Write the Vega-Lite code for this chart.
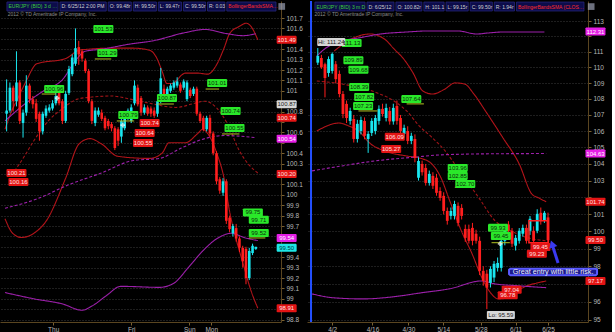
{
"$schema":"https://vega.github.io/schema/vega-lite/v6.json",
"background":"#000000","padding":0,"spacing":2,
"config":{"view":{"stroke":null},
"axis":{"labelColor":"#b8b8b8","labelFontSize":6.5,"labelFont":"Liberation Sans","tickColor":"#7a6030","domainColor":"#5a4520","tickSize":3,"gridColor":"#4d4d4d","gridDash":[1,2],"gridWidth":0.8},
"axisX":{"grid":false,"labelFlush":false,"labelPadding":1,"minExtent":11,"maxExtent":11},
"axisY":{"grid":true,"labelPadding":2,"labelOverlap":false,"minExtent":24,"maxExtent":24}},
"resolve":{"scale":{"x":"independent","y":"independent"}},
"datasets":{
"Lc":[{"i":0,"o":100.78,"h":101.11,"l":100.61,"c":100.81},{"i":1,"o":100.81,"h":101.08,"l":100.79,"c":101.03},{"i":2,"o":101.03,"h":101.05,"l":100.8,"c":100.9},{"i":3,"o":100.9,"h":101.38,"l":100.85,"c":101.08},{"i":4,"o":101.08,"h":101.1,"l":100.68,"c":100.71},{"i":5,"o":100.69,"h":100.82,"l":100.55,"c":100.79},{"i":6,"o":100.79,"h":101.15,"l":100.76,"c":101.05},{"i":7,"o":101.05,"h":101.07,"l":100.88,"c":100.92},{"i":8,"o":100.92,"h":100.95,"l":100.83,"c":100.87},{"i":9,"o":100.88,"h":100.92,"l":100.7,"c":100.73},{"i":10,"o":100.78,"h":100.8,"l":100.52,"c":100.61},{"i":11,"o":100.61,"h":100.8,"l":100.58,"c":100.78},{"i":12,"o":100.76,"h":100.86,"l":100.74,"c":100.83},{"i":13,"o":100.81,"h":100.87,"l":100.79,"c":100.84},{"i":14,"o":100.83,"h":100.91,"l":100.81,"c":100.88},{"i":15,"o":100.88,"h":100.99,"l":100.86,"c":100.95},{"i":16,"o":101.0,"h":101.02,"l":100.86,"c":100.88},{"i":17,"o":100.9,"h":100.92,"l":100.68,"c":100.71},{"i":18,"o":100.71,"h":101.0,"l":100.69,"c":100.97},{"i":19,"o":100.98,"h":101.24,"l":100.96,"c":101.21},{"i":20,"o":101.16,"h":101.35,"l":101.14,"c":101.32},{"i":21,"o":101.26,"h":101.6,"l":101.24,"c":101.41},{"i":22,"o":101.42,"h":101.48,"l":101.25,"c":101.35},{"i":23,"o":101.38,"h":101.4,"l":101.28,"c":101.31},{"i":24,"o":101.29,"h":101.31,"l":101.17,"c":101.19},{"i":25,"o":101.19,"h":101.21,"l":100.88,"c":100.9},{"i":26,"o":100.9,"h":100.92,"l":100.68,"c":100.71},{"i":27,"o":100.69,"h":100.84,"l":100.66,"c":100.81},{"i":28,"o":100.77,"h":100.84,"l":100.75,"c":100.81},{"i":29,"o":100.79,"h":100.82,"l":100.71,"c":100.73},{"i":30,"o":100.74,"h":100.76,"l":100.62,"c":100.64},{"i":31,"o":100.71,"h":100.73,"l":100.63,"c":100.66},{"i":32,"o":100.68,"h":100.7,"l":100.61,"c":100.64},{"i":33,"o":100.64,"h":100.66,"l":100.43,"c":100.45},{"i":34,"o":100.63,"h":100.65,"l":100.47,"c":100.52},{"i":35,"o":100.56,"h":100.74,"l":100.5,"c":100.71},{"i":36,"o":100.64,"h":100.8,"l":100.62,"c":100.78},{"i":37,"o":100.74,"h":100.83,"l":100.72,"c":100.81},{"i":38,"o":100.71,"h":100.87,"l":100.69,"c":100.84},{"i":39,"o":100.88,"h":101.1,"l":100.86,"c":101.05},{"i":40,"o":101.03,"h":101.06,"l":100.85,"c":100.87},{"i":41,"o":100.93,"h":100.95,"l":100.76,"c":100.79},{"i":42,"o":100.79,"h":100.87,"l":100.77,"c":100.84},{"i":43,"o":100.84,"h":100.86,"l":100.76,"c":100.78},{"i":44,"o":100.83,"h":100.85,"l":100.75,"c":100.78},{"i":45,"o":100.81,"h":100.84,"l":100.74,"c":100.76},{"i":46,"o":100.78,"h":100.93,"l":100.75,"c":100.9},{"i":47,"o":100.9,"h":101.22,"l":100.88,"c":101.12},{"i":48,"o":101.02,"h":101.06,"l":100.9,"c":100.92},{"i":49,"o":100.95,"h":101.04,"l":100.93,"c":101.02},{"i":50,"o":101.0,"h":101.07,"l":100.98,"c":101.05},{"i":51,"o":101.03,"h":101.1,"l":101.01,"c":101.08},{"i":52,"o":101.05,"h":101.13,"l":101.03,"c":101.09},{"i":53,"o":101.06,"h":101.08,"l":100.98,"c":101.0},{"i":54,"o":101.03,"h":101.11,"l":101.01,"c":101.09},{"i":55,"o":100.92,"h":101.1,"l":100.9,"c":101.08},{"i":56,"o":101.01,"h":101.03,"l":100.93,"c":100.95},{"i":57,"o":100.97,"h":101.04,"l":100.95,"c":101.02},{"i":58,"o":101.02,"h":101.04,"l":100.76,"c":100.78},{"i":59,"o":100.78,"h":100.8,"l":100.69,"c":100.71},{"i":60,"o":100.74,"h":100.76,"l":100.61,"c":100.63},{"i":61,"o":100.63,"h":100.76,"l":100.61,"c":100.74},{"i":62,"o":100.74,"h":100.77,"l":100.56,"c":100.59},{"i":63,"o":100.59,"h":100.61,"l":100.38,"c":100.4},{"i":64,"o":100.4,"h":100.42,"l":100.1,"c":100.13},{"i":65,"o":100.15,"h":100.17,"l":100.01,"c":100.04},{"i":66,"o":100.02,"h":100.16,"l":99.99,"c":100.13},{"i":67,"o":100.13,"h":100.15,"l":99.72,"c":99.75},{"i":68,"o":99.78,"h":99.8,"l":99.64,"c":99.67},{"i":69,"o":99.63,"h":99.72,"l":99.6,"c":99.7},{"i":70,"o":99.68,"h":99.72,"l":99.55,"c":99.58},{"i":71,"o":99.58,"h":99.6,"l":99.45,"c":99.49},{"i":72,"o":99.49,"h":99.51,"l":99.3,"c":99.36},{"i":73,"o":99.48,"h":99.5,"l":99.14,"c":99.2},{"i":74,"o":99.2,"h":99.49,"l":99.18,"c":99.46},{"i":75,"o":99.44,"h":99.53,"l":99.42,"c":99.51},{"i":76,"o":99.48,"h":99.5,"l":99.47,"c":99.5}],
"Rc":[{"i":0,"o":110.3,"h":111.24,"l":110.15,"c":110.73},{"i":1,"o":110.6,"h":110.8,"l":109.9,"c":110.0},{"i":2,"o":110.2,"h":110.3,"l":108.1,"c":109.32},{"i":3,"o":109.64,"h":110.7,"l":109.4,"c":110.53},{"i":4,"o":109.77,"h":110.95,"l":109.6,"c":110.86},{"i":5,"o":110.2,"h":110.4,"l":109.0,"c":109.25},{"i":6,"o":109.58,"h":109.8,"l":108.1,"c":108.31},{"i":7,"o":108.31,"h":108.5,"l":106.8,"c":107.06},{"i":8,"o":107.69,"h":107.9,"l":106.5,"c":106.81},{"i":9,"o":106.63,"h":107.45,"l":106.4,"c":107.25},{"i":10,"o":106.75,"h":107.0,"l":105.3,"c":105.52},{"i":11,"o":105.52,"h":106.7,"l":105.3,"c":106.45},{"i":12,"o":106.01,"h":106.9,"l":105.8,"c":106.69},{"i":13,"o":106.63,"h":106.85,"l":105.5,"c":105.71},{"i":14,"o":105.52,"h":106.0,"l":104.67,"c":105.83},{"i":15,"o":105.89,"h":106.8,"l":105.7,"c":106.63},{"i":16,"o":106.01,"h":107.0,"l":105.8,"c":106.81},{"i":17,"o":106.63,"h":107.6,"l":106.4,"c":107.38},{"i":18,"o":107.38,"h":107.7,"l":106.9,"c":107.06},{"i":19,"o":106.81,"h":107.7,"l":106.6,"c":107.44},{"i":20,"o":107.25,"h":107.5,"l":106.4,"c":106.6},{"i":21,"o":106.6,"h":107.7,"l":106.4,"c":107.44},{"i":22,"o":107.56,"h":107.9,"l":106.4,"c":106.63},{"i":23,"o":106.81,"h":107.0,"l":105.8,"c":106.01},{"i":24,"o":105.83,"h":106.4,"l":105.6,"c":106.2},{"i":25,"o":106.01,"h":106.3,"l":105.2,"c":105.4},{"i":26,"o":105.4,"h":105.9,"l":105.2,"c":105.71},{"i":27,"o":105.52,"h":105.8,"l":104.1,"c":104.36},{"i":28,"o":103.17,"h":104.4,"l":103.0,"c":104.18},{"i":29,"o":104.0,"h":104.2,"l":103.3,"c":103.5},{"i":30,"o":103.76,"h":104.0,"l":102.7,"c":102.86},{"i":31,"o":102.86,"h":103.6,"l":102.7,"c":103.4},{"i":32,"o":103.28,"h":103.5,"l":102.5,"c":102.69},{"i":33,"o":103.17,"h":103.4,"l":102.1,"c":102.27},{"i":34,"o":102.38,"h":102.6,"l":101.8,"c":101.97},{"i":35,"o":102.09,"h":102.3,"l":101.0,"c":101.2},{"i":36,"o":101.2,"h":101.4,"l":100.4,"c":100.62},{"i":37,"o":100.91,"h":101.4,"l":100.7,"c":101.2},{"i":38,"o":100.91,"h":101.8,"l":100.7,"c":101.61},{"i":39,"o":101.5,"h":101.7,"l":100.3,"c":100.5},{"i":40,"o":101.38,"h":101.6,"l":100.7,"c":100.91},{"i":41,"o":100.15,"h":100.4,"l":99.4,"c":99.63},{"i":42,"o":100.15,"h":100.4,"l":99.3,"c":99.46},{"i":43,"o":100.21,"h":100.5,"l":99.2,"c":99.46},{"i":44,"o":99.87,"h":100.1,"l":99.3,"c":99.46},{"i":45,"o":99.46,"h":99.7,"l":97.5,"c":97.74},{"i":46,"o":97.74,"h":98.0,"l":96.9,"c":97.17},{"i":47,"o":97.58,"h":97.8,"l":95.59,"c":96.79},{"i":48,"o":97.06,"h":98.0,"l":96.8,"c":97.85},{"i":49,"o":97.36,"h":98.3,"l":97.1,"c":98.14},{"i":50,"o":97.91,"h":98.5,"l":97.7,"c":98.19},{"i":51,"o":97.91,"h":99.8,"l":97.7,"c":99.46},{"i":52,"o":99.46,"h":100.4,"l":99.2,"c":100.21},{"i":53,"o":100.4,"h":100.6,"l":99.9,"c":100.04},{"i":54,"o":100.04,"h":100.2,"l":99.1,"c":99.29},{"i":55,"o":99.18,"h":99.8,"l":98.9,"c":99.63},{"i":56,"o":99.46,"h":100.2,"l":99.3,"c":100.04},{"i":57,"o":99.87,"h":100.4,"l":99.7,"c":100.21},{"i":58,"o":100.21,"h":100.4,"l":99.3,"c":99.46},{"i":59,"o":100.04,"h":100.9,"l":99.8,"c":100.74},{"i":60,"o":100.04,"h":100.3,"l":99.3,"c":99.46},{"i":61,"o":100.04,"h":101.3,"l":99.9,"c":101.03},{"i":62,"o":101.09,"h":101.4,"l":100.4,"c":100.62},{"i":63,"o":100.62,"h":101.2,"l":100.5,"c":101.09},{"i":64,"o":100.82,"h":101.1,"l":99.15,"c":99.5}],
"Lln":[{"s":"ub","i":-0.5,"p":100.63},{"s":"ub","i":1.6,"p":100.81},{"s":"ub","i":3.3,"p":100.92},{"s":"ub","i":5.9,"p":101.09},{"s":"ub","i":9.2,"p":101.26},{"s":"ub","i":18,"p":101.31},{"s":"ub","i":22.1,"p":101.39},{"s":"ub","i":25.1,"p":101.4},{"s":"ub","i":31.9,"p":101.41},{"s":"ub","i":38.6,"p":101.41},{"s":"ub","i":43.6,"p":101.39},{"s":"ub","i":45.7,"p":101.32},{"s":"ub","i":47.4,"p":101.19},{"s":"ub","i":48.9,"p":101.07},{"s":"ub","i":50.4,"p":101.07},{"s":"ub","i":54.5,"p":101.17},{"s":"ub","i":58.3,"p":101.17},{"s":"ub","i":61.3,"p":101.16},{"s":"ub","i":64.2,"p":101.26},{"s":"ub","i":66.3,"p":101.41},{"s":"ub","i":68,"p":101.55},{"s":"ub","i":71,"p":101.62},{"s":"ub","i":73,"p":101.65},{"s":"ub","i":74.5,"p":101.62},{"s":"ub","i":76.6,"p":101.49},
{"s":"mb","i":2.44,"p":100.23},{"s":"mb","i":5.4,"p":100.37},{"s":"mb","i":8.3,"p":100.52},{"s":"mb","i":12.7,"p":100.71},{"s":"mb","i":17.1,"p":100.83},{"s":"mb","i":21.6,"p":100.92},{"s":"mb","i":26,"p":100.94},{"s":"mb","i":31.9,"p":100.95},{"s":"mb","i":37.7,"p":100.92},{"s":"mb","i":43.6,"p":100.88},{"s":"mb","i":51.6,"p":100.84},{"s":"mb","i":57.4,"p":100.88},{"s":"mb","i":60.4,"p":100.9},{"s":"mb","i":64.2,"p":100.83},{"s":"mb","i":67.7,"p":100.66},{"s":"mb","i":70.7,"p":100.44},{"s":"mb","i":73.6,"p":100.3},{"s":"mb","i":76.6,"p":100.21},
{"s":"lb","i":-0.5,"p":99.77},{"s":"lb","i":1.85,"p":99.63},{"s":"lb","i":4.5,"p":99.59},{"s":"lb","i":8.3,"p":99.63},{"s":"lb","i":12.1,"p":99.75},{"s":"lb","i":18,"p":100.16},{"s":"lb","i":22.1,"p":100.49},{"s":"lb","i":25.4,"p":100.54},{"s":"lb","i":28.9,"p":100.49},{"s":"lb","i":33.9,"p":100.37},{"s":"lb","i":43.6,"p":100.35},{"s":"lb","i":47.4,"p":100.4},{"s":"lb","i":49.5,"p":100.5},{"s":"lb","i":54.5,"p":100.5},{"s":"lb","i":58.3,"p":100.59},{"s":"lb","i":59.8,"p":100.63},{"s":"lb","i":61.3,"p":100.59},{"s":"lb","i":64.2,"p":100.39},{"s":"lb","i":66.3,"p":100.16},{"s":"lb","i":68,"p":99.84},{"s":"lb","i":70.1,"p":99.56},{"s":"lb","i":72.1,"p":99.34},{"s":"lb","i":74.5,"p":99.08},{"s":"lb","i":76.6,"p":98.91},
{"s":"pu","i":-0.5,"p":100.71},{"s":"pu","i":5.4,"p":100.87},{"s":"pu","i":11.3,"p":101.0},{"s":"pu","i":17.1,"p":101.11},{"s":"pu","i":21,"p":101.29},{"s":"pu","i":23.9,"p":101.38},{"s":"pu","i":28.9,"p":101.4},{"s":"pu","i":37.7,"p":101.45},{"s":"pu","i":44.5,"p":101.48},{"s":"pu","i":54.5,"p":101.56},{"s":"pu","i":60.4,"p":101.59},{"s":"pu","i":67.1,"p":101.55},{"s":"pu","i":72.1,"p":101.53},{"s":"pu","i":76,"p":101.55},
{"s":"pd","i":-0.5,"p":99.87},{"s":"pd","i":9.2,"p":99.96},{"s":"pd","i":19.2,"p":100.1},{"s":"pd","i":28.9,"p":100.21},{"s":"pd","i":38.6,"p":100.33},{"s":"pd","i":46.6,"p":100.35},{"s":"pd","i":53.3,"p":100.45},{"s":"pd","i":60.4,"p":100.54},{"s":"pd","i":66.3,"p":100.57},{"s":"pd","i":76,"p":100.55},
{"s":"pl","i":-0.5,"p":99.06},{"s":"pl","i":8.3,"p":99.0},{"s":"pl","i":17.1,"p":98.95},{"s":"pl","i":23,"p":98.89},{"s":"pl","i":26,"p":98.93},{"s":"pl","i":30.4,"p":99.03},{"s":"pl","i":34.8,"p":99.12},{"s":"pl","i":46.6,"p":99.11},{"s":"pl","i":51,"p":99.15},{"s":"pl","i":55.4,"p":99.3},{"s":"pl","i":59.8,"p":99.46},{"s":"pl","i":64.2,"p":99.58},{"s":"pl","i":68.6,"p":99.63},{"s":"pl","i":72.4,"p":99.59},{"s":"pl","i":76.6,"p":99.56}],
"Rln":[{"s":"ub","i":4.56,"p":111.05},{"s":"ub","i":9.38,"p":111.83},{"s":"ub","i":14.5,"p":112.15},{"s":"ub","i":18.5,"p":111.83},{"s":"ub","i":21.2,"p":111.18},{"s":"ub","i":23.9,"p":110.53},{"s":"ub","i":26.5,"p":109.64},{"s":"ub","i":29.2,"p":108.5},{"s":"ub","i":31.9,"p":108.31},{"s":"ub","i":35.4,"p":108.63},{"s":"ub","i":38.1,"p":109.01},{"s":"ub","i":40.8,"p":108.94},{"s":"ub","i":43.4,"p":108.31},{"s":"ub","i":46.6,"p":107.25},{"s":"ub","i":51.5,"p":105.58},{"s":"ub","i":56,"p":104.0},{"s":"ub","i":59.5,"p":102.2},{"s":"ub","i":61.4,"p":101.97},{"s":"ub","i":63.5,"p":101.74},
{"s":"mb","i":-0.27,"p":109.13},{"s":"mb","i":6.7,"p":108.94},{"s":"mb","i":16.6,"p":108.37},{"s":"mb","i":21.2,"p":107.87},{"s":"mb","i":24.7,"p":107.25},{"s":"mb","i":28.2,"p":106.32},{"s":"mb","i":31.9,"p":105.58},{"s":"mb","i":35.4,"p":104.79},{"s":"mb","i":39.4,"p":103.58},{"s":"mb","i":44.8,"p":101.97},{"s":"mb","i":49.3,"p":100.62},{"s":"mb","i":52.8,"p":100.15},{"s":"mb","i":56.8,"p":99.74},{"s":"mb","i":63.5,"p":99.46},
{"s":"lb","i":-0.27,"p":106.01},{"s":"lb","i":5.9,"p":106.5},{"s":"lb","i":8.6,"p":106.32},{"s":"lb","i":11.3,"p":106.01},{"s":"lb","i":14.7,"p":105.22},{"s":"lb","i":18.5,"p":104.79},{"s":"lb","i":24.7,"p":104.48},{"s":"lb","i":28.2,"p":104.36},{"s":"lb","i":31.4,"p":104.06},{"s":"lb","i":34,"p":103.28},{"s":"lb","i":36.7,"p":101.79},{"s":"lb","i":39.9,"p":100.04},{"s":"lb","i":42.9,"p":98.71},{"s":"lb","i":45.6,"p":97.36},{"s":"lb","i":48.3,"p":96.44},{"s":"lb","i":50.1,"p":96.16},{"s":"lb","i":52.8,"p":96.22},{"s":"lb","i":55.5,"p":96.61},{"s":"lb","i":58.2,"p":96.9},{"s":"lb","i":60.9,"p":97.05},{"s":"lb","i":63.5,"p":97.17},
{"s":"pu","i":-0.27,"p":110.73},{"s":"pu","i":1.9,"p":111.18},{"s":"pu","i":6.7,"p":111.7},{"s":"pu","i":11.3,"p":111.89},{"s":"pu","i":17.4,"p":112.15},{"s":"pu","i":24.7,"p":112.28},{"s":"pu","i":30.8,"p":112.35},{"s":"pu","i":38.9,"p":112.35},{"s":"pu","i":44.2,"p":112.15},{"s":"pu","i":47.5,"p":112.22},{"s":"pu","i":51.5,"p":112.28},{"s":"pu","i":63,"p":112.28},
{"s":"pd","i":-1.6,"p":103.58},{"s":"pd","i":6.7,"p":103.88},{"s":"pd","i":15.8,"p":104.18},{"s":"pd","i":27.3,"p":104.42},{"s":"pd","i":33.5,"p":104.54},{"s":"pd","i":42.6,"p":104.6},{"s":"pd","i":51.5,"p":104.62},{"s":"pd","i":63.5,"p":104.63},
{"s":"pl","i":-1.6,"p":96.44},{"s":"pl","i":4.6,"p":96.22},{"s":"pl","i":12.6,"p":96.16},{"s":"pl","i":20.6,"p":96.27},{"s":"pl","i":28.7,"p":96.5},{"s":"pl","i":36.7,"p":96.73},{"s":"pl","i":45.6,"p":97.17},{"s":"pl","i":49.3,"p":97.0},{"s":"pl","i":55.5,"p":96.9},{"s":"pl","i":63.5,"p":96.79}],
"Lt":[{"i":29.5,"p":101.594,"t":"101.53","k":"g"},{"i":30.7,"p":101.364,"t":"101.29","k":"g"},{"i":14.5,"p":101.017,"t":"100.96","k":"g"},{"i":48.9,"p":100.931,"t":"100.87","k":"g"},{"i":64.2,"p":101.075,"t":"101.01","k":"g"},{"i":37.1,"p":100.767,"t":"100.79","k":"g"},{"i":68.3,"p":100.806,"t":"100.74","k":"g"},{"i":69.5,"p":100.642,"t":"100.55","k":"g"},{"i":75.1,"p":99.83,"t":"99.75","k":"g"},{"i":76.9,"p":99.76,"t":"99.71","k":"g"},{"i":76.9,"p":99.633,"t":"99.52","k":"g"},{"i":43.6,"p":100.69,"t":"100.74","k":"r"},{"i":42.1,"p":100.594,"t":"100.64","k":"r"},{"i":41.6,"p":100.498,"t":"100.55","k":"r"},{"i":3.0,"p":100.21,"t":"100.21","k":"r"},{"i":3.6,"p":100.123,"t":"100.16","k":"r"},{"i":85.4,"p":101.49,"t":"101.49","k":"r"},{"i":85.4,"p":100.87,"t":"100.87","k":"w"},{"i":85.4,"p":100.74,"t":"100.74","k":"r"},{"i":85.4,"p":100.54,"t":"100.54","k":"m"},{"i":85.4,"p":100.2,"t":"100.20","k":"r"},{"i":85.4,"p":99.585,"t":"99.54","k":"m"},{"i":85.4,"p":99.49,"t":"99.50","k":"c"},{"i":85.4,"p":98.91,"t":"98.91","k":"r"}],
"Rt":[{"i":9.4,"p":111.57,"t":"111.13","k":"g"},{"i":9.9,"p":110.45,"t":"109.89","k":"g"},{"i":11.3,"p":109.85,"t":"109.68","k":"g"},{"i":11.5,"p":108.75,"t":"108.39","k":"g"},{"i":12.9,"p":108.12,"t":"107.82","k":"g"},{"i":12.6,"p":107.56,"t":"107.23","k":"g"},{"i":26.0,"p":107.99,"t":"107.64","k":"g"},{"i":21.4,"p":105.65,"t":"106.09","k":"r"},{"i":20.4,"p":104.91,"t":"105.27","k":"r"},{"i":38.9,"p":103.76,"t":"103.96","k":"g"},{"i":38.9,"p":103.28,"t":"102.85","k":"g"},{"i":41.0,"p":102.8,"t":"102.70","k":"g"},{"i":50.1,"p":100.21,"t":"99.93","k":"g"},{"i":50.9,"p":99.74,"t":"99.45","k":"g"},{"i":60.9,"p":98.71,"t":"99.23","k":"r"},{"i":61.9,"p":99.1,"t":"99.45","k":"r"},{"i":52.8,"p":96.36,"t":"96.78","k":"r"},{"i":53.9,"p":96.67,"t":"97.04","k":"r"},{"i":77.2,"p":112.31,"t":"112.31","k":"m"},{"i":77.2,"p":104.63,"t":"104.63","k":"m"},{"i":77.2,"p":101.74,"t":"101.74","k":"r"},{"i":77.2,"p":99.5,"t":"99.50","k":"r"},{"i":77.2,"p":97.17,"t":"97.17","k":"r"}],
"Rw":[{"i":3.75,"p":111.63,"t":"Hi: 111.24","k":"w"},{"i":50.9,"p":95.27,"t":"Lo: 95.59","k":"w"}],
"Lul":[{"a":10.7,"b":15.1,"p":100.969},{"a":26.9,"b":31.9,"p":101.306},{"a":46,"b":51,"p":100.873},{"a":60.7,"b":64.8,"p":101.017},{"a":65.7,"b":71,"p":100.585},{"a":33.6,"b":38.9,"p":100.71},{"a":73.9,"b":78.9,"p":99.585}],
"Rul":[{"a":24.7,"b":29.5,"p":107.69},{"a":11.3,"b":16.6,"p":107.25},{"a":38.1,"b":43.4,"p":102.6},{"a":48.3,"b":53.4,"p":99.35}],
"Lx":[{"i":15.4,"p":100.93},{"i":35.4,"p":100.67}],
"Rx":[{"i":50.7,"p":99.29}],
"Lh":[{"a":0.09,"b":15.68,"t":"EUR/JPY (BID) 3 d 3m","k":"sym"},{"a":16.26,"b":30.38,"t":"D: 6/25/12 2:00 PM","k":"info"},{"a":30.97,"b":38.03,"t":"O: 99.48r","k":"info"},{"a":38.62,"b":45.68,"t":"H: 99.50r","k":"info"},{"a":46.26,"b":53.32,"t":"L: 99.47r","k":"info"},{"a":53.91,"b":60.68,"t":"C: 99.50r","k":"info"},{"a":61.26,"b":66.56,"t":"R: 0.03","k":"info"},{"a":67.15,"b":82.15,"t":"BollingerBandsSMA (...","k":"bb"}],
"Rh":[{"a":-0.8,"b":13.14,"t":"EUR/JPY (BID) 3 m D","k":"sym"},{"a":13.67,"b":21.18,"t":"D: 6/25/12","k":"info"},{"a":21.72,"b":28.95,"t":"O: 100.82r","k":"info"},{"a":29.49,"b":35.12,"t":"H: 101.1","k":"info"},{"a":35.66,"b":41.82,"t":"L: 99.15r","k":"info"},{"a":42.36,"b":48.53,"t":"C: 99.50r","k":"info"},{"a":49.06,"b":54.69,"t":"R: 1.94r","k":"info"},{"a":55.23,"b":74.0,"t":"BollingerBandsSMA (CLOSE, ...","k":"bb"}]
},
"hconcat":[
{"width":281,"height":321,
"layer":[
{"data":{"name":"Lln"},"mark":{"type":"line","strokeWidth":1.1,"interpolate":"monotone"},
"encoding":{
"x":{"field":"i","type":"quantitative","scale":{"domain":[-0.5,82.15],"nice":false,"zero":false},"axis":{"values":[14.2,38,55.7,62.4],"labelExpr":"datum.value < 20 ? 'Thu' : datum.value < 45 ? 'Fri' : datum.value < 60 ? 'Sun' : 'Mon'","title":null}},
"y":{"field":"p","type":"quantitative","scale":{"domain":[98.777,101.8635],"nice":false,"zero":false},"axis":{"orient":"right","values":[98.8,98.9,99,99.1,99.2,99.3,99.4,99.5,99.6,99.7,99.8,99.9,100,100.1,100.2,100.3,100.4,100.5,100.6,100.7,100.8,100.9,101,101.1,101.2,101.3,101.4,101.5,101.6,101.7],"labelExpr":"indexof([101.5,100.9,100.7,100.5,100.2,99.6,99.5,98.9], datum.value) >= 0 ? '' : format(datum.value, '~f')","title":null}},
"stroke":{"field":"s","type":"nominal","scale":{"domain":["ub","mb","lb","pu","pd","pl"],"range":["#b3141a","#a01418","#b3141a","#9c20aa","#9c20aa","#9c20aa"]},"legend":null},
"strokeDash":{"field":"s","type":"nominal","scale":{"domain":["ub","mb","lb","pu","pd","pl"],"range":[[1,0],[3,2],[1,0],[1,0],[3,2],[1,0]]},"legend":null}}},
{"data":{"name":"Lc"},"mark":{"type":"rule","strokeWidth":1},
"encoding":{"x":{"field":"i","type":"quantitative","scale":{"domain":[-0.5,82.15],"nice":false,"zero":false},"axis":{"values":[14.2,38,55.7,62.4],"labelExpr":"datum.value < 20 ? 'Thu' : datum.value < 45 ? 'Fri' : datum.value < 60 ? 'Sun' : 'Mon'","title":null}},
"y":{"field":"l","type":"quantitative","scale":{"domain":[98.777,101.8635],"nice":false,"zero":false},"axis":{"orient":"right","values":[98.8,98.9,99,99.1,99.2,99.3,99.4,99.5,99.6,99.7,99.8,99.9,100,100.1,100.2,100.3,100.4,100.5,100.6,100.7,100.8,100.9,101,101.1,101.2,101.3,101.4,101.5,101.6,101.7],"labelExpr":"indexof([101.5,100.9,100.7,100.5,100.2,99.6,99.5,98.9], datum.value) >= 0 ? '' : format(datum.value, '~f')","title":null}},"y2":{"field":"h"},
"color":{"condition":{"test":"datum.c >= datum.o","value":"#19e6ef"},"value":"#ff1e1e"}}},
{"data":{"name":"Lc"},"mark":{"type":"bar","size":2.6,"orient":"vertical"},
"encoding":{"x":{"field":"i","type":"quantitative","scale":{"domain":[-0.5,82.15],"nice":false,"zero":false},"axis":{"values":[14.2,38,55.7,62.4],"labelExpr":"datum.value < 20 ? 'Thu' : datum.value < 45 ? 'Fri' : datum.value < 60 ? 'Sun' : 'Mon'","title":null}},
"y":{"field":"o","type":"quantitative","scale":{"domain":[98.777,101.8635],"nice":false,"zero":false},"axis":{"orient":"right","values":[98.8,98.9,99,99.1,99.2,99.3,99.4,99.5,99.6,99.7,99.8,99.9,100,100.1,100.2,100.3,100.4,100.5,100.6,100.7,100.8,100.9,101,101.1,101.2,101.3,101.4,101.5,101.6,101.7],"labelExpr":"indexof([101.5,100.9,100.7,100.5,100.2,99.6,99.5,98.9], datum.value) >= 0 ? '' : format(datum.value, '~f')","title":null}},"y2":{"field":"c"},
"color":{"condition":{"test":"datum.c >= datum.o","value":"#19e6ef"},"value":"#ff1e1e"}}},
{"data":{"name":"Lul"},"mark":{"type":"rule","strokeWidth":1,"color":"#b4c420"},
"encoding":{"x":{"field":"a","type":"quantitative","scale":{"domain":[-0.5,82.15],"nice":false,"zero":false},"axis":{"values":[14.2,38,55.7,62.4],"labelExpr":"datum.value < 20 ? 'Thu' : datum.value < 45 ? 'Fri' : datum.value < 60 ? 'Sun' : 'Mon'","title":null}},"x2":{"field":"b"},
"y":{"field":"p","type":"quantitative","scale":{"domain":[98.777,101.8635],"nice":false,"zero":false},"axis":{"orient":"right","values":[98.8,98.9,99,99.1,99.2,99.3,99.4,99.5,99.6,99.7,99.8,99.9,100,100.1,100.2,100.3,100.4,100.5,100.6,100.7,100.8,100.9,101,101.1,101.2,101.3,101.4,101.5,101.6,101.7],"labelExpr":"indexof([101.5,100.9,100.7,100.5,100.2,99.6,99.5,98.9], datum.value) >= 0 ? '' : format(datum.value, '~f')","title":null}}}},
{"data":{"name":"Lx"},"mark":{"type":"point","shape":"cross","filled":true,"size":22,"color":"#ffffff"},
"encoding":{"x":{"field":"i","type":"quantitative","scale":{"domain":[-0.5,82.15],"nice":false,"zero":false},"axis":{"values":[14.2,38,55.7,62.4],"labelExpr":"datum.value < 20 ? 'Thu' : datum.value < 45 ? 'Fri' : datum.value < 60 ? 'Sun' : 'Mon'","title":null}},
"y":{"field":"p","type":"quantitative","scale":{"domain":[98.777,101.8635],"nice":false,"zero":false},"axis":{"orient":"right","values":[98.8,98.9,99,99.1,99.2,99.3,99.4,99.5,99.6,99.7,99.8,99.9,100,100.1,100.2,100.3,100.4,100.5,100.6,100.7,100.8,100.9,101,101.1,101.2,101.3,101.4,101.5,101.6,101.7],"labelExpr":"indexof([101.5,100.9,100.7,100.5,100.2,99.6,99.5,98.9], datum.value) >= 0 ? '' : format(datum.value, '~f')","title":null}}}},
{"data":{"name":"Lt"},"mark":{"type":"point","shape":"M-0.93,-0.4H0.93L1,-0.32V0.32L0.93,0.4H-0.93L-1,0.32V-0.32Z","filled":true,"size":400,"opacity":1,"strokeWidth":0},
"encoding":{"x":{"field":"i","type":"quantitative","scale":{"domain":[-0.5,82.15],"nice":false,"zero":false},"axis":{"values":[14.2,38,55.7,62.4],"labelExpr":"datum.value < 20 ? 'Thu' : datum.value < 45 ? 'Fri' : datum.value < 60 ? 'Sun' : 'Mon'","title":null}},
"y":{"field":"p","type":"quantitative","scale":{"domain":[98.777,101.8635],"nice":false,"zero":false},"axis":{"orient":"right","values":[98.8,98.9,99,99.1,99.2,99.3,99.4,99.5,99.6,99.7,99.8,99.9,100,100.1,100.2,100.3,100.4,100.5,100.6,100.7,100.8,100.9,101,101.1,101.2,101.3,101.4,101.5,101.6,101.7],"labelExpr":"indexof([101.5,100.9,100.7,100.5,100.2,99.6,99.5,98.9], datum.value) >= 0 ? '' : format(datum.value, '~f')","title":null}},
"fill":{"field":"k","type":"nominal","scale":{"domain":["g","r","w","m","c"],"range":["#2ae82a","#e31414","#d6d6d6","#e61ee6","#1ee6e6"]},"legend":null}}},
{"data":{"name":"Lt"},"mark":{"type":"text","fontSize":6,"font":"Liberation Sans"},
"encoding":{"x":{"field":"i","type":"quantitative","scale":{"domain":[-0.5,82.15],"nice":false,"zero":false},"axis":{"values":[14.2,38,55.7,62.4],"labelExpr":"datum.value < 20 ? 'Thu' : datum.value < 45 ? 'Fri' : datum.value < 60 ? 'Sun' : 'Mon'","title":null}},
"y":{"field":"p","type":"quantitative","scale":{"domain":[98.777,101.8635],"nice":false,"zero":false},"axis":{"orient":"right","values":[98.8,98.9,99,99.1,99.2,99.3,99.4,99.5,99.6,99.7,99.8,99.9,100,100.1,100.2,100.3,100.4,100.5,100.6,100.7,100.8,100.9,101,101.1,101.2,101.3,101.4,101.5,101.6,101.7],"labelExpr":"indexof([101.5,100.9,100.7,100.5,100.2,99.6,99.5,98.9], datum.value) >= 0 ? '' : format(datum.value, '~f')","title":null}},
"text":{"field":"t"},
"color":{"field":"k","type":"nominal","scale":{"domain":["g","r","w","m","c","sym","info","bb"],"range":["#0a2a0a","#ffe0e0","#1a1a1a","#ffffff","#003a3a","#3ccf3c","#d0d0d0","#ff2a2a"]},"legend":null}}},
{"data":{"name":"Lh"},"mark":{"type":"rect","fill":"#0c0c4a","stroke":"#26267a","strokeWidth":0.8},
"encoding":{"x":{"field":"a","type":"quantitative","scale":{"domain":[-0.5,82.15],"nice":false,"zero":false},"axis":{"values":[14.2,38,55.7,62.4],"labelExpr":"datum.value < 20 ? 'Thu' : datum.value < 45 ? 'Fri' : datum.value < 60 ? 'Sun' : 'Mon'","title":null}},"x2":{"field":"b"},
"y":{"datum":101.854,"type":"quantitative","scale":{"domain":[98.777,101.8635],"nice":false,"zero":false},"axis":{"orient":"right","values":[98.8,98.9,99,99.1,99.2,99.3,99.4,99.5,99.6,99.7,99.8,99.9,100,100.1,100.2,100.3,100.4,100.5,100.6,100.7,100.8,100.9,101,101.1,101.2,101.3,101.4,101.5,101.6,101.7],"labelExpr":"indexof([101.5,100.9,100.7,100.5,100.2,99.6,99.5,98.9], datum.value) >= 0 ? '' : format(datum.value, '~f')","title":null}},"y2":{"datum":101.767}}},
{"data":{"name":"Lh"},"mark":{"type":"text","fontSize":5,"font":"Liberation Sans","align":"left","dx":1.5,"limit":50},
"encoding":{"x":{"field":"a","type":"quantitative","scale":{"domain":[-0.5,82.15],"nice":false,"zero":false},"axis":{"values":[14.2,38,55.7,62.4],"labelExpr":"datum.value < 20 ? 'Thu' : datum.value < 45 ? 'Fri' : datum.value < 60 ? 'Sun' : 'Mon'","title":null}},
"y":{"datum":101.811,"type":"quantitative","scale":{"domain":[98.777,101.8635],"nice":false,"zero":false},"axis":{"orient":"right","values":[98.8,98.9,99,99.1,99.2,99.3,99.4,99.5,99.6,99.7,99.8,99.9,100,100.1,100.2,100.3,100.4,100.5,100.6,100.7,100.8,100.9,101,101.1,101.2,101.3,101.4,101.5,101.6,101.7],"labelExpr":"indexof([101.5,100.9,100.7,100.5,100.2,99.6,99.5,98.9], datum.value) >= 0 ? '' : format(datum.value, '~f')","title":null}},
"text":{"field":"t"},
"color":{"field":"k","type":"nominal","scale":{"domain":["g","r","w","m","c","sym","info","bb"],"range":["#0a2a0a","#ffe0e0","#1a1a1a","#ffffff","#003a3a","#3ccf3c","#d0d0d0","#ff2a2a"]},"legend":null}}},
{"data":{"values":[{"t":"2012 © TD Ameritrade IP Company, Inc.","i":0,"p":101.738}]},"mark":{"type":"text","fontSize":5,"font":"Liberation Sans","align":"left","dx":1,"color":"#8c8c8c"},
"encoding":{"x":{"field":"i","type":"quantitative","scale":{"domain":[-0.5,82.15],"nice":false,"zero":false},"axis":{"values":[14.2,38,55.7,62.4],"labelExpr":"datum.value < 20 ? 'Thu' : datum.value < 45 ? 'Fri' : datum.value < 60 ? 'Sun' : 'Mon'","title":null}},
"y":{"field":"p","type":"quantitative","scale":{"domain":[98.777,101.8635],"nice":false,"zero":false},"axis":{"orient":"right","values":[98.8,98.9,99,99.1,99.2,99.3,99.4,99.5,99.6,99.7,99.8,99.9,100,100.1,100.2,100.3,100.4,100.5,100.6,100.7,100.8,100.9,101,101.1,101.2,101.3,101.4,101.5,101.6,101.7],"labelExpr":"indexof([101.5,100.9,100.7,100.5,100.2,99.6,99.5,98.9], datum.value) >= 0 ? '' : format(datum.value, '~f')","title":null}},"text":{"field":"t"}}},
{"data":{"values":[{"i":83.9,"p":101.811}]},"mark":{"type":"point","shape":"square","filled":true,"size":45,"color":"#9aa0b4"},
"encoding":{"x":{"field":"i","type":"quantitative","scale":{"domain":[-0.5,82.15],"nice":false,"zero":false},"axis":{"values":[14.2,38,55.7,62.4],"labelExpr":"datum.value < 20 ? 'Thu' : datum.value < 45 ? 'Fri' : datum.value < 60 ? 'Sun' : 'Mon'","title":null}},
"y":{"field":"p","type":"quantitative","scale":{"domain":[98.777,101.8635],"nice":false,"zero":false},"axis":{"orient":"right","values":[98.8,98.9,99,99.1,99.2,99.3,99.4,99.5,99.6,99.7,99.8,99.9,100,100.1,100.2,100.3,100.4,100.5,100.6,100.7,100.8,100.9,101,101.1,101.2,101.3,101.4,101.5,101.6,101.7],"labelExpr":"indexof([101.5,100.9,100.7,100.5,100.2,99.6,99.5,98.9], datum.value) >= 0 ? '' : format(datum.value, '~f')","title":null}}}}
]},
{"width":281,"height":321,
"layer":[
{"data":{"name":"Rln"},"mark":{"type":"line","strokeWidth":1.1,"interpolate":"monotone"},
"encoding":{
"x":{"field":"i","type":"quantitative","scale":{"domain":[-1.608,73.73],"nice":false,"zero":false},"axis":{"values":[4,15.2,25.2,34.9,45.3,55,64],"labelExpr":"datum.value < 10 ? '4/2' : datum.value < 20 ? '4/16' : datum.value < 30 ? '4/30' : datum.value < 40 ? '5/14' : datum.value < 50 ? '5/28' : datum.value < 60 ? '6/11' : '6/25'","title":null}},
"y":{"field":"p","type":"quantitative","scale":{"type":"log","domain":[94.88,114.32],"nice":false},"axis":{"orient":"right","values":[95,96,97,98,99,100,101,102,103,104,105,106,107,108,109,110,111,112,113],"labelExpr":"indexof([112,102,97], datum.value) >= 0 ? '' : format(datum.value, 'd')","title":null}},
"stroke":{"field":"s","type":"nominal","scale":{"domain":["ub","mb","lb","pu","pd","pl"],"range":["#b3141a","#a01418","#b3141a","#9c20aa","#9c20aa","#9c20aa"]},"legend":null},
"strokeDash":{"field":"s","type":"nominal","scale":{"domain":["ub","mb","lb","pu","pd","pl"],"range":[[1,0],[3,2],[1,0],[1,0],[3,2],[1,0]]},"legend":null}}},
{"data":{"name":"Rc"},"mark":{"type":"rule","strokeWidth":1},
"encoding":{"x":{"field":"i","type":"quantitative","scale":{"domain":[-1.608,73.73],"nice":false,"zero":false},"axis":{"values":[4,15.2,25.2,34.9,45.3,55,64],"labelExpr":"datum.value < 10 ? '4/2' : datum.value < 20 ? '4/16' : datum.value < 30 ? '4/30' : datum.value < 40 ? '5/14' : datum.value < 50 ? '5/28' : datum.value < 60 ? '6/11' : '6/25'","title":null}},
"y":{"field":"l","type":"quantitative","scale":{"type":"log","domain":[94.88,114.32],"nice":false},"axis":{"orient":"right","values":[95,96,97,98,99,100,101,102,103,104,105,106,107,108,109,110,111,112,113],"labelExpr":"indexof([112,102,97], datum.value) >= 0 ? '' : format(datum.value, 'd')","title":null}},"y2":{"field":"h"},
"color":{"condition":{"test":"datum.c >= datum.o","value":"#19e6ef"},"value":"#ff1e1e"}}},
{"data":{"name":"Rc"},"mark":{"type":"bar","size":2.8,"orient":"vertical"},
"encoding":{"x":{"field":"i","type":"quantitative","scale":{"domain":[-1.608,73.73],"nice":false,"zero":false},"axis":{"values":[4,15.2,25.2,34.9,45.3,55,64],"labelExpr":"datum.value < 10 ? '4/2' : datum.value < 20 ? '4/16' : datum.value < 30 ? '4/30' : datum.value < 40 ? '5/14' : datum.value < 50 ? '5/28' : datum.value < 60 ? '6/11' : '6/25'","title":null}},
"y":{"field":"o","type":"quantitative","scale":{"type":"log","domain":[94.88,114.32],"nice":false},"axis":{"orient":"right","values":[95,96,97,98,99,100,101,102,103,104,105,106,107,108,109,110,111,112,113],"labelExpr":"indexof([112,102,97], datum.value) >= 0 ? '' : format(datum.value, 'd')","title":null}},"y2":{"field":"c"},
"color":{"condition":{"test":"datum.c >= datum.o","value":"#19e6ef"},"value":"#ff1e1e"}}},
{"data":{"values":[{"a":58.7,"b":64.1,"p":100.62,"q":99.35}]},"mark":{"type":"rect","fillOpacity":0,"stroke":"#ff2020","strokeWidth":1.5},
"encoding":{"x":{"field":"a","type":"quantitative","scale":{"domain":[-1.608,73.73],"nice":false,"zero":false},"axis":{"values":[4,15.2,25.2,34.9,45.3,55,64],"labelExpr":"datum.value < 10 ? '4/2' : datum.value < 20 ? '4/16' : datum.value < 30 ? '4/30' : datum.value < 40 ? '5/14' : datum.value < 50 ? '5/28' : datum.value < 60 ? '6/11' : '6/25'","title":null}},"x2":{"field":"b"},
"y":{"field":"p","type":"quantitative","scale":{"type":"log","domain":[94.88,114.32],"nice":false},"axis":{"orient":"right","values":[95,96,97,98,99,100,101,102,103,104,105,106,107,108,109,110,111,112,113],"labelExpr":"indexof([112,102,97], datum.value) >= 0 ? '' : format(datum.value, 'd')","title":null}},"y2":{"field":"q"}}},
{"data":{"name":"Rul"},"mark":{"type":"rule","strokeWidth":1,"color":"#b4c420"},
"encoding":{"x":{"field":"a","type":"quantitative","scale":{"domain":[-1.608,73.73],"nice":false,"zero":false},"axis":{"values":[4,15.2,25.2,34.9,45.3,55,64],"labelExpr":"datum.value < 10 ? '4/2' : datum.value < 20 ? '4/16' : datum.value < 30 ? '4/30' : datum.value < 40 ? '5/14' : datum.value < 50 ? '5/28' : datum.value < 60 ? '6/11' : '6/25'","title":null}},"x2":{"field":"b"},
"y":{"field":"p","type":"quantitative","scale":{"type":"log","domain":[94.88,114.32],"nice":false},"axis":{"orient":"right","values":[95,96,97,98,99,100,101,102,103,104,105,106,107,108,109,110,111,112,113],"labelExpr":"indexof([112,102,97], datum.value) >= 0 ? '' : format(datum.value, 'd')","title":null}}}},
{"data":{"name":"Rx"},"mark":{"type":"point","shape":"cross","filled":true,"size":22,"color":"#ffffff"},
"encoding":{"x":{"field":"i","type":"quantitative","scale":{"domain":[-1.608,73.73],"nice":false,"zero":false},"axis":{"values":[4,15.2,25.2,34.9,45.3,55,64],"labelExpr":"datum.value < 10 ? '4/2' : datum.value < 20 ? '4/16' : datum.value < 30 ? '4/30' : datum.value < 40 ? '5/14' : datum.value < 50 ? '5/28' : datum.value < 60 ? '6/11' : '6/25'","title":null}},
"y":{"field":"p","type":"quantitative","scale":{"type":"log","domain":[94.88,114.32],"nice":false},"axis":{"orient":"right","values":[95,96,97,98,99,100,101,102,103,104,105,106,107,108,109,110,111,112,113],"labelExpr":"indexof([112,102,97], datum.value) >= 0 ? '' : format(datum.value, 'd')","title":null}}}},
{"data":{"name":"Rt"},"mark":{"type":"point","shape":"M-0.93,-0.4H0.93L1,-0.32V0.32L0.93,0.4H-0.93L-1,0.32V-0.32Z","filled":true,"size":400,"opacity":1,"strokeWidth":0},
"encoding":{"x":{"field":"i","type":"quantitative","scale":{"domain":[-1.608,73.73],"nice":false,"zero":false},"axis":{"values":[4,15.2,25.2,34.9,45.3,55,64],"labelExpr":"datum.value < 10 ? '4/2' : datum.value < 20 ? '4/16' : datum.value < 30 ? '4/30' : datum.value < 40 ? '5/14' : datum.value < 50 ? '5/28' : datum.value < 60 ? '6/11' : '6/25'","title":null}},
"y":{"field":"p","type":"quantitative","scale":{"type":"log","domain":[94.88,114.32],"nice":false},"axis":{"orient":"right","values":[95,96,97,98,99,100,101,102,103,104,105,106,107,108,109,110,111,112,113],"labelExpr":"indexof([112,102,97], datum.value) >= 0 ? '' : format(datum.value, 'd')","title":null}},
"fill":{"field":"k","type":"nominal","scale":{"domain":["g","r","w","m","c"],"range":["#2ae82a","#e31414","#d6d6d6","#e61ee6","#1ee6e6"]},"legend":null}}},
{"data":{"name":"Rw"},"mark":{"type":"point","shape":"M-0.95,-0.29H0.95L1,-0.23V0.23L0.95,0.29H-0.95L-1,0.23V-0.23Z","filled":true,"size":784,"opacity":1,"strokeWidth":0},
"encoding":{"x":{"field":"i","type":"quantitative","scale":{"domain":[-1.608,73.73],"nice":false,"zero":false},"axis":{"values":[4,15.2,25.2,34.9,45.3,55,64],"labelExpr":"datum.value < 10 ? '4/2' : datum.value < 20 ? '4/16' : datum.value < 30 ? '4/30' : datum.value < 40 ? '5/14' : datum.value < 50 ? '5/28' : datum.value < 60 ? '6/11' : '6/25'","title":null}},
"y":{"field":"p","type":"quantitative","scale":{"type":"log","domain":[94.88,114.32],"nice":false},"axis":{"orient":"right","values":[95,96,97,98,99,100,101,102,103,104,105,106,107,108,109,110,111,112,113],"labelExpr":"indexof([112,102,97], datum.value) >= 0 ? '' : format(datum.value, 'd')","title":null}},
"fill":{"field":"k","type":"nominal","scale":{"domain":["g","r","w","m","c"],"range":["#2ae82a","#e31414","#d6d6d6","#e61ee6","#1ee6e6"]},"legend":null}}},
{"data":{"name":"Rt"},"mark":{"type":"text","fontSize":6,"font":"Liberation Sans"},
"encoding":{"x":{"field":"i","type":"quantitative","scale":{"domain":[-1.608,73.73],"nice":false,"zero":false},"axis":{"values":[4,15.2,25.2,34.9,45.3,55,64],"labelExpr":"datum.value < 10 ? '4/2' : datum.value < 20 ? '4/16' : datum.value < 30 ? '4/30' : datum.value < 40 ? '5/14' : datum.value < 50 ? '5/28' : datum.value < 60 ? '6/11' : '6/25'","title":null}},
"y":{"field":"p","type":"quantitative","scale":{"type":"log","domain":[94.88,114.32],"nice":false},"axis":{"orient":"right","values":[95,96,97,98,99,100,101,102,103,104,105,106,107,108,109,110,111,112,113],"labelExpr":"indexof([112,102,97], datum.value) >= 0 ? '' : format(datum.value, 'd')","title":null}},
"text":{"field":"t"},
"color":{"field":"k","type":"nominal","scale":{"domain":["g","r","w","m","c","sym","info","bb"],"range":["#0a2a0a","#ffe0e0","#1a1a1a","#ffffff","#003a3a","#3ccf3c","#d0d0d0","#ff2a2a"]},"legend":null}}},
{"data":{"name":"Rw"},"mark":{"type":"text","fontSize":6,"font":"Liberation Sans"},
"encoding":{"x":{"field":"i","type":"quantitative","scale":{"domain":[-1.608,73.73],"nice":false,"zero":false},"axis":{"values":[4,15.2,25.2,34.9,45.3,55,64],"labelExpr":"datum.value < 10 ? '4/2' : datum.value < 20 ? '4/16' : datum.value < 30 ? '4/30' : datum.value < 40 ? '5/14' : datum.value < 50 ? '5/28' : datum.value < 60 ? '6/11' : '6/25'","title":null}},
"y":{"field":"p","type":"quantitative","scale":{"type":"log","domain":[94.88,114.32],"nice":false},"axis":{"orient":"right","values":[95,96,97,98,99,100,101,102,103,104,105,106,107,108,109,110,111,112,113],"labelExpr":"indexof([112,102,97], datum.value) >= 0 ? '' : format(datum.value, 'd')","title":null}},
"text":{"field":"t"},
"color":{"field":"k","type":"nominal","scale":{"domain":["g","r","w","m","c","sym","info","bb"],"range":["#0a2a0a","#ffe0e0","#1a1a1a","#ffffff","#003a3a","#3ccf3c","#d0d0d0","#ff2a2a"]},"legend":null}}},
{"data":{"values":[{"a":66.8,"b":65.35,"p":98.19,"q":99.12}]},"mark":{"type":"rule","strokeWidth":3,"color":"#3a3af0"},
"encoding":{"x":{"field":"a","type":"quantitative","scale":{"domain":[-1.608,73.73],"nice":false,"zero":false},"axis":{"values":[4,15.2,25.2,34.9,45.3,55,64],"labelExpr":"datum.value < 10 ? '4/2' : datum.value < 20 ? '4/16' : datum.value < 30 ? '4/30' : datum.value < 40 ? '5/14' : datum.value < 50 ? '5/28' : datum.value < 60 ? '6/11' : '6/25'","title":null}},"x2":{"field":"b"},
"y":{"field":"p","type":"quantitative","scale":{"type":"log","domain":[94.88,114.32],"nice":false},"axis":{"orient":"right","values":[95,96,97,98,99,100,101,102,103,104,105,106,107,108,109,110,111,112,113],"labelExpr":"indexof([112,102,97], datum.value) >= 0 ? '' : format(datum.value, 'd')","title":null}},"y2":{"field":"q"}}},
{"data":{"values":[{"i":65.15,"p":99.28}]},"mark":{"type":"point","shape":"triangle-up","angle":-20,"filled":true,"size":70,"color":"#3a3af0","opacity":1},
"encoding":{"x":{"field":"i","type":"quantitative","scale":{"domain":[-1.608,73.73],"nice":false,"zero":false},"axis":{"values":[4,15.2,25.2,34.9,45.3,55,64],"labelExpr":"datum.value < 10 ? '4/2' : datum.value < 20 ? '4/16' : datum.value < 30 ? '4/30' : datum.value < 40 ? '5/14' : datum.value < 50 ? '5/28' : datum.value < 60 ? '6/11' : '6/25'","title":null}},
"y":{"field":"p","type":"quantitative","scale":{"type":"log","domain":[94.88,114.32],"nice":false},"axis":{"orient":"right","values":[95,96,97,98,99,100,101,102,103,104,105,106,107,108,109,110,111,112,113],"labelExpr":"indexof([112,102,97], datum.value) >= 0 ? '' : format(datum.value, 'd')","title":null}}}},
{"data":{"values":[{"i":65.4,"p":97.68,"t":"Great entry with little risk."}]},"mark":{"type":"point","shape":"M-0.97,-0.074H0.97L1,-0.05V0.05L0.97,0.074H-0.97L-1,0.05V-0.05Z","filled":true,"size":7744,"fill":"#1b1b8e","stroke":"#5a5aff","strokeWidth":2,"opacity":1},
"encoding":{"x":{"field":"i","type":"quantitative","scale":{"domain":[-1.608,73.73],"nice":false,"zero":false},"axis":{"values":[4,15.2,25.2,34.9,45.3,55,64],"labelExpr":"datum.value < 10 ? '4/2' : datum.value < 20 ? '4/16' : datum.value < 30 ? '4/30' : datum.value < 40 ? '5/14' : datum.value < 50 ? '5/28' : datum.value < 60 ? '6/11' : '6/25'","title":null}},
"y":{"field":"p","type":"quantitative","scale":{"type":"log","domain":[94.88,114.32],"nice":false},"axis":{"orient":"right","values":[95,96,97,98,99,100,101,102,103,104,105,106,107,108,109,110,111,112,113],"labelExpr":"indexof([112,102,97], datum.value) >= 0 ? '' : format(datum.value, 'd')","title":null}}}},
{"data":{"values":[{"i":65.4,"p":97.68,"t":"Great entry with little risk."}]},"mark":{"type":"text","fontSize":7.2,"font":"Liberation Sans","color":"#eeeeff"},
"encoding":{"x":{"field":"i","type":"quantitative","scale":{"domain":[-1.608,73.73],"nice":false,"zero":false},"axis":{"values":[4,15.2,25.2,34.9,45.3,55,64],"labelExpr":"datum.value < 10 ? '4/2' : datum.value < 20 ? '4/16' : datum.value < 30 ? '4/30' : datum.value < 40 ? '5/14' : datum.value < 50 ? '5/28' : datum.value < 60 ? '6/11' : '6/25'","title":null}},
"y":{"field":"p","type":"quantitative","scale":{"type":"log","domain":[94.88,114.32],"nice":false},"axis":{"orient":"right","values":[95,96,97,98,99,100,101,102,103,104,105,106,107,108,109,110,111,112,113],"labelExpr":"indexof([112,102,97], datum.value) >= 0 ? '' : format(datum.value, 'd')","title":null}},"text":{"field":"t"}}},
{"data":{"name":"Rh"},"mark":{"type":"rect","fill":"#0c0c4a","stroke":"#26267a","strokeWidth":0.8},
"encoding":{"x":{"field":"a","type":"quantitative","scale":{"domain":[-1.608,73.73],"nice":false,"zero":false},"axis":{"values":[4,15.2,25.2,34.9,45.3,55,64],"labelExpr":"datum.value < 10 ? '4/2' : datum.value < 20 ? '4/16' : datum.value < 30 ? '4/30' : datum.value < 40 ? '5/14' : datum.value < 50 ? '5/28' : datum.value < 60 ? '6/11' : '6/25'","title":null}},"x2":{"field":"b"},
"y":{"datum":114.25,"type":"quantitative","scale":{"type":"log","domain":[94.88,114.32],"nice":false},"axis":{"orient":"right","values":[95,96,97,98,99,100,101,102,103,104,105,106,107,108,109,110,111,112,113],"labelExpr":"indexof([112,102,97], datum.value) >= 0 ? '' : format(datum.value, 'd')","title":null}},"y2":{"datum":113.66}}},
{"data":{"name":"Rh"},"mark":{"type":"text","fontSize":5,"font":"Liberation Sans","align":"left","dx":1.5,"limit":68},
"encoding":{"x":{"field":"a","type":"quantitative","scale":{"domain":[-1.608,73.73],"nice":false,"zero":false},"axis":{"values":[4,15.2,25.2,34.9,45.3,55,64],"labelExpr":"datum.value < 10 ? '4/2' : datum.value < 20 ? '4/16' : datum.value < 30 ? '4/30' : datum.value < 40 ? '5/14' : datum.value < 50 ? '5/28' : datum.value < 60 ? '6/11' : '6/25'","title":null}},
"y":{"datum":113.95,"type":"quantitative","scale":{"type":"log","domain":[94.88,114.32],"nice":false},"axis":{"orient":"right","values":[95,96,97,98,99,100,101,102,103,104,105,106,107,108,109,110,111,112,113],"labelExpr":"indexof([112,102,97], datum.value) >= 0 ? '' : format(datum.value, 'd')","title":null}},
"text":{"field":"t"},
"color":{"field":"k","type":"nominal","scale":{"domain":["g","r","w","m","c","sym","info","bb"],"range":["#0a2a0a","#ffe0e0","#1a1a1a","#ffffff","#003a3a","#3ccf3c","#d0d0d0","#ff2a2a"]},"legend":null}}},
{"data":{"values":[{"t":"2012 © TD Ameritrade IP Company, Inc.","i":-1.2,"p":113.46}]},"mark":{"type":"text","fontSize":5,"font":"Liberation Sans","align":"left","dx":1,"color":"#8c8c8c"},
"encoding":{"x":{"field":"i","type":"quantitative","scale":{"domain":[-1.608,73.73],"nice":false,"zero":false},"axis":{"values":[4,15.2,25.2,34.9,45.3,55,64],"labelExpr":"datum.value < 10 ? '4/2' : datum.value < 20 ? '4/16' : datum.value < 30 ? '4/30' : datum.value < 40 ? '5/14' : datum.value < 50 ? '5/28' : datum.value < 60 ? '6/11' : '6/25'","title":null}},
"y":{"field":"p","type":"quantitative","scale":{"type":"log","domain":[94.88,114.32],"nice":false},"axis":{"orient":"right","values":[95,96,97,98,99,100,101,102,103,104,105,106,107,108,109,110,111,112,113],"labelExpr":"indexof([112,102,97], datum.value) >= 0 ? '' : format(datum.value, 'd')","title":null}},"text":{"field":"t"}}},
{"data":{"values":[{"i":76.0,"p":113.95}]},"mark":{"type":"point","shape":"square","filled":true,"size":45,"color":"#9aa0b4"},
"encoding":{"x":{"field":"i","type":"quantitative","scale":{"domain":[-1.608,73.73],"nice":false,"zero":false},"axis":{"values":[4,15.2,25.2,34.9,45.3,55,64],"labelExpr":"datum.value < 10 ? '4/2' : datum.value < 20 ? '4/16' : datum.value < 30 ? '4/30' : datum.value < 40 ? '5/14' : datum.value < 50 ? '5/28' : datum.value < 60 ? '6/11' : '6/25'","title":null}},
"y":{"field":"p","type":"quantitative","scale":{"type":"log","domain":[94.88,114.32],"nice":false},"axis":{"orient":"right","values":[95,96,97,98,99,100,101,102,103,104,105,106,107,108,109,110,111,112,113],"labelExpr":"indexof([112,102,97], datum.value) >= 0 ? '' : format(datum.value, 'd')","title":null}}}},
{"data":{"values":[{"i":-1.88,"p":94.88,"q":114.32}]},"mark":{"type":"rule","strokeWidth":2,"color":"#2350ff"},
"encoding":{"x":{"field":"i","type":"quantitative","scale":{"domain":[-1.608,73.73],"nice":false,"zero":false},"axis":{"values":[4,15.2,25.2,34.9,45.3,55,64],"labelExpr":"datum.value < 10 ? '4/2' : datum.value < 20 ? '4/16' : datum.value < 30 ? '4/30' : datum.value < 40 ? '5/14' : datum.value < 50 ? '5/28' : datum.value < 60 ? '6/11' : '6/25'","title":null}},
"y":{"field":"p","type":"quantitative","scale":{"type":"log","domain":[94.88,114.32],"nice":false},"axis":{"orient":"right","values":[95,96,97,98,99,100,101,102,103,104,105,106,107,108,109,110,111,112,113],"labelExpr":"indexof([112,102,97], datum.value) >= 0 ? '' : format(datum.value, 'd')","title":null}},"y2":{"field":"q"}}}
]}
]}
